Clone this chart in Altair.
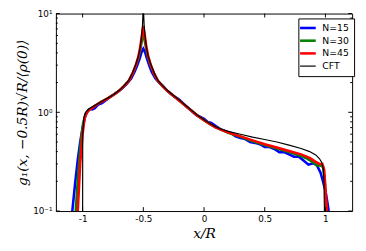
import altair as alt
import pandas as pd

# ---------------- data ----------------
series_names = ["N=15", "N=30", "N=45", "CFT"]
series_colors = ["#0000ff", "#008000", "#ff0000", "#000000"]

n15_x = [-1.085, -1.06, -1.04, -1.02, -1.0, -0.98, -0.96, -0.94, -0.92, -0.9, -0.87, -0.84,
         -0.8, -0.76, -0.72, -0.68, -0.64, -0.6, -0.57, -0.55, -0.53, -0.515, -0.5, -0.485,
         -0.47, -0.45, -0.43, -0.4, -0.37, -0.34, -0.3, -0.27, -0.24, -0.21, -0.18, -0.15,
         -0.12, -0.09, -0.06, -0.03, 0.0, 0.03, 0.06, 0.1, 0.14, 0.18, 0.22, 0.26, 0.3, 0.34,
         0.38, 0.42, 0.46, 0.5, 0.54, 0.58, 0.62, 0.66, 0.7, 0.74, 0.78, 0.82, 0.86, 0.9,
         0.93, 0.96, 0.98, 1.0, 1.015, 1.027]
n15_y = [0.1, 0.2, 0.33, 0.5, 0.7, 0.9, 1.02, 1.08, 1.07, 1.1, 1.2, 1.24,
         1.35, 1.47, 1.58, 1.72, 1.92, 2.2, 2.6, 3.0, 3.5, 4.05, 4.4, 4.05,
         3.5, 2.95, 2.55, 2.2, 2.0, 1.86, 1.64, 1.52, 1.43, 1.36, 1.26, 1.16,
         1.08, 1.0, 0.93, 0.9, 0.86, 0.8, 0.78, 0.72, 0.67, 0.645, 0.62, 0.57, 0.55, 0.535,
         0.5, 0.49, 0.475, 0.445, 0.445, 0.425, 0.395, 0.395, 0.375, 0.355, 0.355, 0.325, 0.295, 0.305,
         0.29, 0.245, 0.2, 0.16, 0.125, 0.1]

n30_x = [-1.057, -1.035, -1.015, -0.995, -0.975, -0.95, -0.93, -0.9, -0.85, -0.8, -0.75, -0.7,
         -0.66, -0.62, -0.59, -0.56, -0.54, -0.525, -0.512, -0.5, -0.488, -0.475, -0.46,
         -0.44, -0.41, -0.38, -0.34, -0.3, -0.25, -0.2, -0.15, -0.1, -0.05, 0.0, 0.05, 0.1,
         0.15, 0.2, 0.3, 0.4, 0.5, 0.6, 0.7, 0.8, 0.85, 0.9, 0.93, 0.96, 0.98, 0.995, 1.005, 1.01]
n30_y = [0.1, 0.25, 0.5, 0.78, 0.97, 1.06, 1.1, 1.16, 1.27, 1.37, 1.49, 1.65,
         1.84, 2.08, 2.45, 3.0, 3.55, 4.3, 5.3, 6.3, 5.3, 4.3, 3.55,
         3.0, 2.45, 2.08, 1.83, 1.64, 1.46, 1.3, 1.16, 1.03, 0.92, 0.83, 0.76, 0.7,
         0.66, 0.62, 0.565, 0.51, 0.465, 0.43, 0.395, 0.36, 0.34, 0.31, 0.29, 0.29, 0.28, 0.2, 0.12, 0.1]

n45_x = [-1.04, -1.02, -1.0, -0.985, -0.97, -0.95, -0.93, -0.9, -0.85, -0.8, -0.75, -0.7,
         -0.66, -0.62, -0.59, -0.56, -0.54, -0.525, -0.512, -0.5, -0.488, -0.475, -0.46,
         -0.44, -0.41, -0.38, -0.34, -0.3, -0.25, -0.2, -0.15, -0.1, -0.05, 0.0, 0.05, 0.1,
         0.15, 0.2, 0.3, 0.4, 0.5, 0.6, 0.7, 0.8, 0.87, 0.92, 0.95, 0.975, 0.99, 1.0, 1.013]
n45_y = [0.1, 0.3, 0.6, 0.85, 0.98, 1.04, 1.09, 1.16, 1.27, 1.37, 1.49, 1.65,
         1.84, 2.08, 2.45, 3.05, 3.7, 4.6, 6.0, 7.5, 6.0, 4.6, 3.7,
         3.05, 2.45, 2.08, 1.83, 1.64, 1.46, 1.3, 1.16, 1.03, 0.92, 0.83, 0.76, 0.7,
         0.66, 0.625, 0.57, 0.52, 0.475, 0.44, 0.405, 0.375, 0.345, 0.315, 0.3, 0.3, 0.26, 0.17, 0.1]

cft_x = [-1.0, -0.999, -0.99, -0.975, -0.95, -0.9, -0.85, -0.8, -0.75, -0.7, -0.66, -0.62,
         -0.59, -0.56, -0.54, -0.525, -0.515, -0.507, -0.5, -0.493, -0.485, -0.475, -0.46,
         -0.44, -0.41, -0.38, -0.34, -0.3, -0.25, -0.2, -0.15, -0.1, -0.05, 0.0, 0.05, 0.1,
         0.15, 0.2, 0.3, 0.4, 0.5, 0.6, 0.7, 0.8, 0.87, 0.92, 0.95, 0.97, 0.982, 0.988, 0.992]
cft_y = [0.1, 0.6, 0.88, 1.0, 1.08, 1.17, 1.27, 1.38, 1.5, 1.66, 1.85, 2.1,
         2.5, 3.1, 3.7, 4.6, 5.8, 7.5, 12.0, 7.5, 5.8, 4.6, 3.7,
         3.1, 2.5, 2.1, 1.85, 1.66, 1.48, 1.32, 1.17, 1.04, 0.93, 0.84, 0.77, 0.71,
         0.67, 0.64, 0.6, 0.56, 0.53, 0.5, 0.465, 0.43, 0.4, 0.37, 0.34, 0.31, 0.27, 0.2, 0.1]

x_ticks = [-1, -0.5, 0, 0.5, 1]
y_ticks = [0.1, 1, 10]
y_minor = [0.2, 0.3, 0.4, 0.5, 0.6, 0.7, 0.8, 0.9, 2, 3, 4, 5, 6, 7, 8, 9]

# ---------------- build table ----------------
rows = []
for name, xs, ys in zip(series_names, [n15_x, n30_x, n45_x, cft_x], [n15_y, n30_y, n45_y, cft_y]):
    for i, (xv, yv) in enumerate(zip(xs, ys)):
        rows.append({"series": name, "x": xv, "y": yv, "i": i})
df = pd.DataFrame(rows)

W, H = 303, 202
xscale = alt.Scale(domain=[-1.22, 1.22], nice=False, zero=False)
yscale = alt.Scale(type="log", domain=[0.1, 10], nice=False)

xaxis = alt.Axis(values=x_ticks, labelExpr="'' + datum.value", title="x/R",
                 titleFont="DejaVu Serif", titleFontStyle="italic", titleFontWeight="normal",
                 titleFontSize=14, titlePadding=3, labelPadding=4)
yaxis = alt.Axis(values=y_ticks,
                 labelExpr="datum.value >= 5 ? '10¹' : datum.value >= 0.5 ? '10⁰' : '10⁻¹'",
                 title="g₁(x, −0.5R)√R/⟨ρ(0)⟩",
                 titleFont="DejaVu Serif", titleFontStyle="italic", titleFontWeight="normal",
                 titleFontSize=14, titlePadding=3, labelPadding=4)

lines = alt.Chart(df).mark_line(clip=True).encode(
    x=alt.X("x:Q", scale=xscale, axis=xaxis),
    y=alt.Y("y:Q", scale=yscale, axis=yaxis),
    color=alt.Color("series:N", scale=alt.Scale(domain=series_names, range=series_colors),
                    legend=alt.Legend(orient="none", legendX=248, legendY=5, title=None,
                                      strokeColor="black", fillColor="white", padding=5,
                                      symbolType="stroke", symbolSize=256, labelFont="DejaVu Sans",
                                      labelFontSize=9.5, labelColor="black", labelOffset=10,
                                      rowPadding=2, cornerRadius=0,
                                      symbolStrokeWidth=alt.ExprRef(
                                          "datum.value === 'CFT' ? 1.2 : 2.6"))),
    strokeWidth=alt.condition(alt.datum.series == "CFT", alt.value(1.2), alt.value(2.6)),
    detail="series:N",
    order="i:Q",
)

def rule_layer(vals, **enc):
    d = pd.DataFrame({"x": vals, "y": vals})
    return alt.Chart(d).mark_rule(color="black", strokeWidth=1).encode(**enc)

tick_len, minor_len = 4, 2
xb = rule_layer(x_ticks, x=alt.X("x:Q", scale=xscale), y=alt.value(H), y2=alt.value(H - tick_len))
xt = rule_layer(x_ticks, x=alt.X("x:Q", scale=xscale), y=alt.value(0), y2=alt.value(tick_len))
yl = rule_layer(y_ticks, y=alt.Y("y:Q", scale=yscale), x=alt.value(0), x2=alt.value(tick_len))
yr = rule_layer(y_ticks, y=alt.Y("y:Q", scale=yscale), x=alt.value(W), x2=alt.value(W - tick_len))
yml = rule_layer(y_minor, y=alt.Y("y:Q", scale=yscale), x=alt.value(0), x2=alt.value(minor_len))
ymr = rule_layer(y_minor, y=alt.Y("y:Q", scale=yscale), x=alt.value(W), x2=alt.value(W - minor_len))

chart = alt.layer(lines, xb, xt, yl, yr, yml, ymr).properties(
    width=W, height=H,
    autosize=alt.AutoSizeParams(type="none"),
    padding={"left": 49, "top": 3, "right": 6, "bottom": 30},
).configure_view(stroke="black", strokeWidth=1).configure_axis(
    grid=False, domain=False, ticks=False, labelFont="DejaVu Sans", labelFontSize=9,
    labelColor="black", titleColor="black",
)

chart.save("out.html", embed_options={"renderer": "svg", "actions": False})
